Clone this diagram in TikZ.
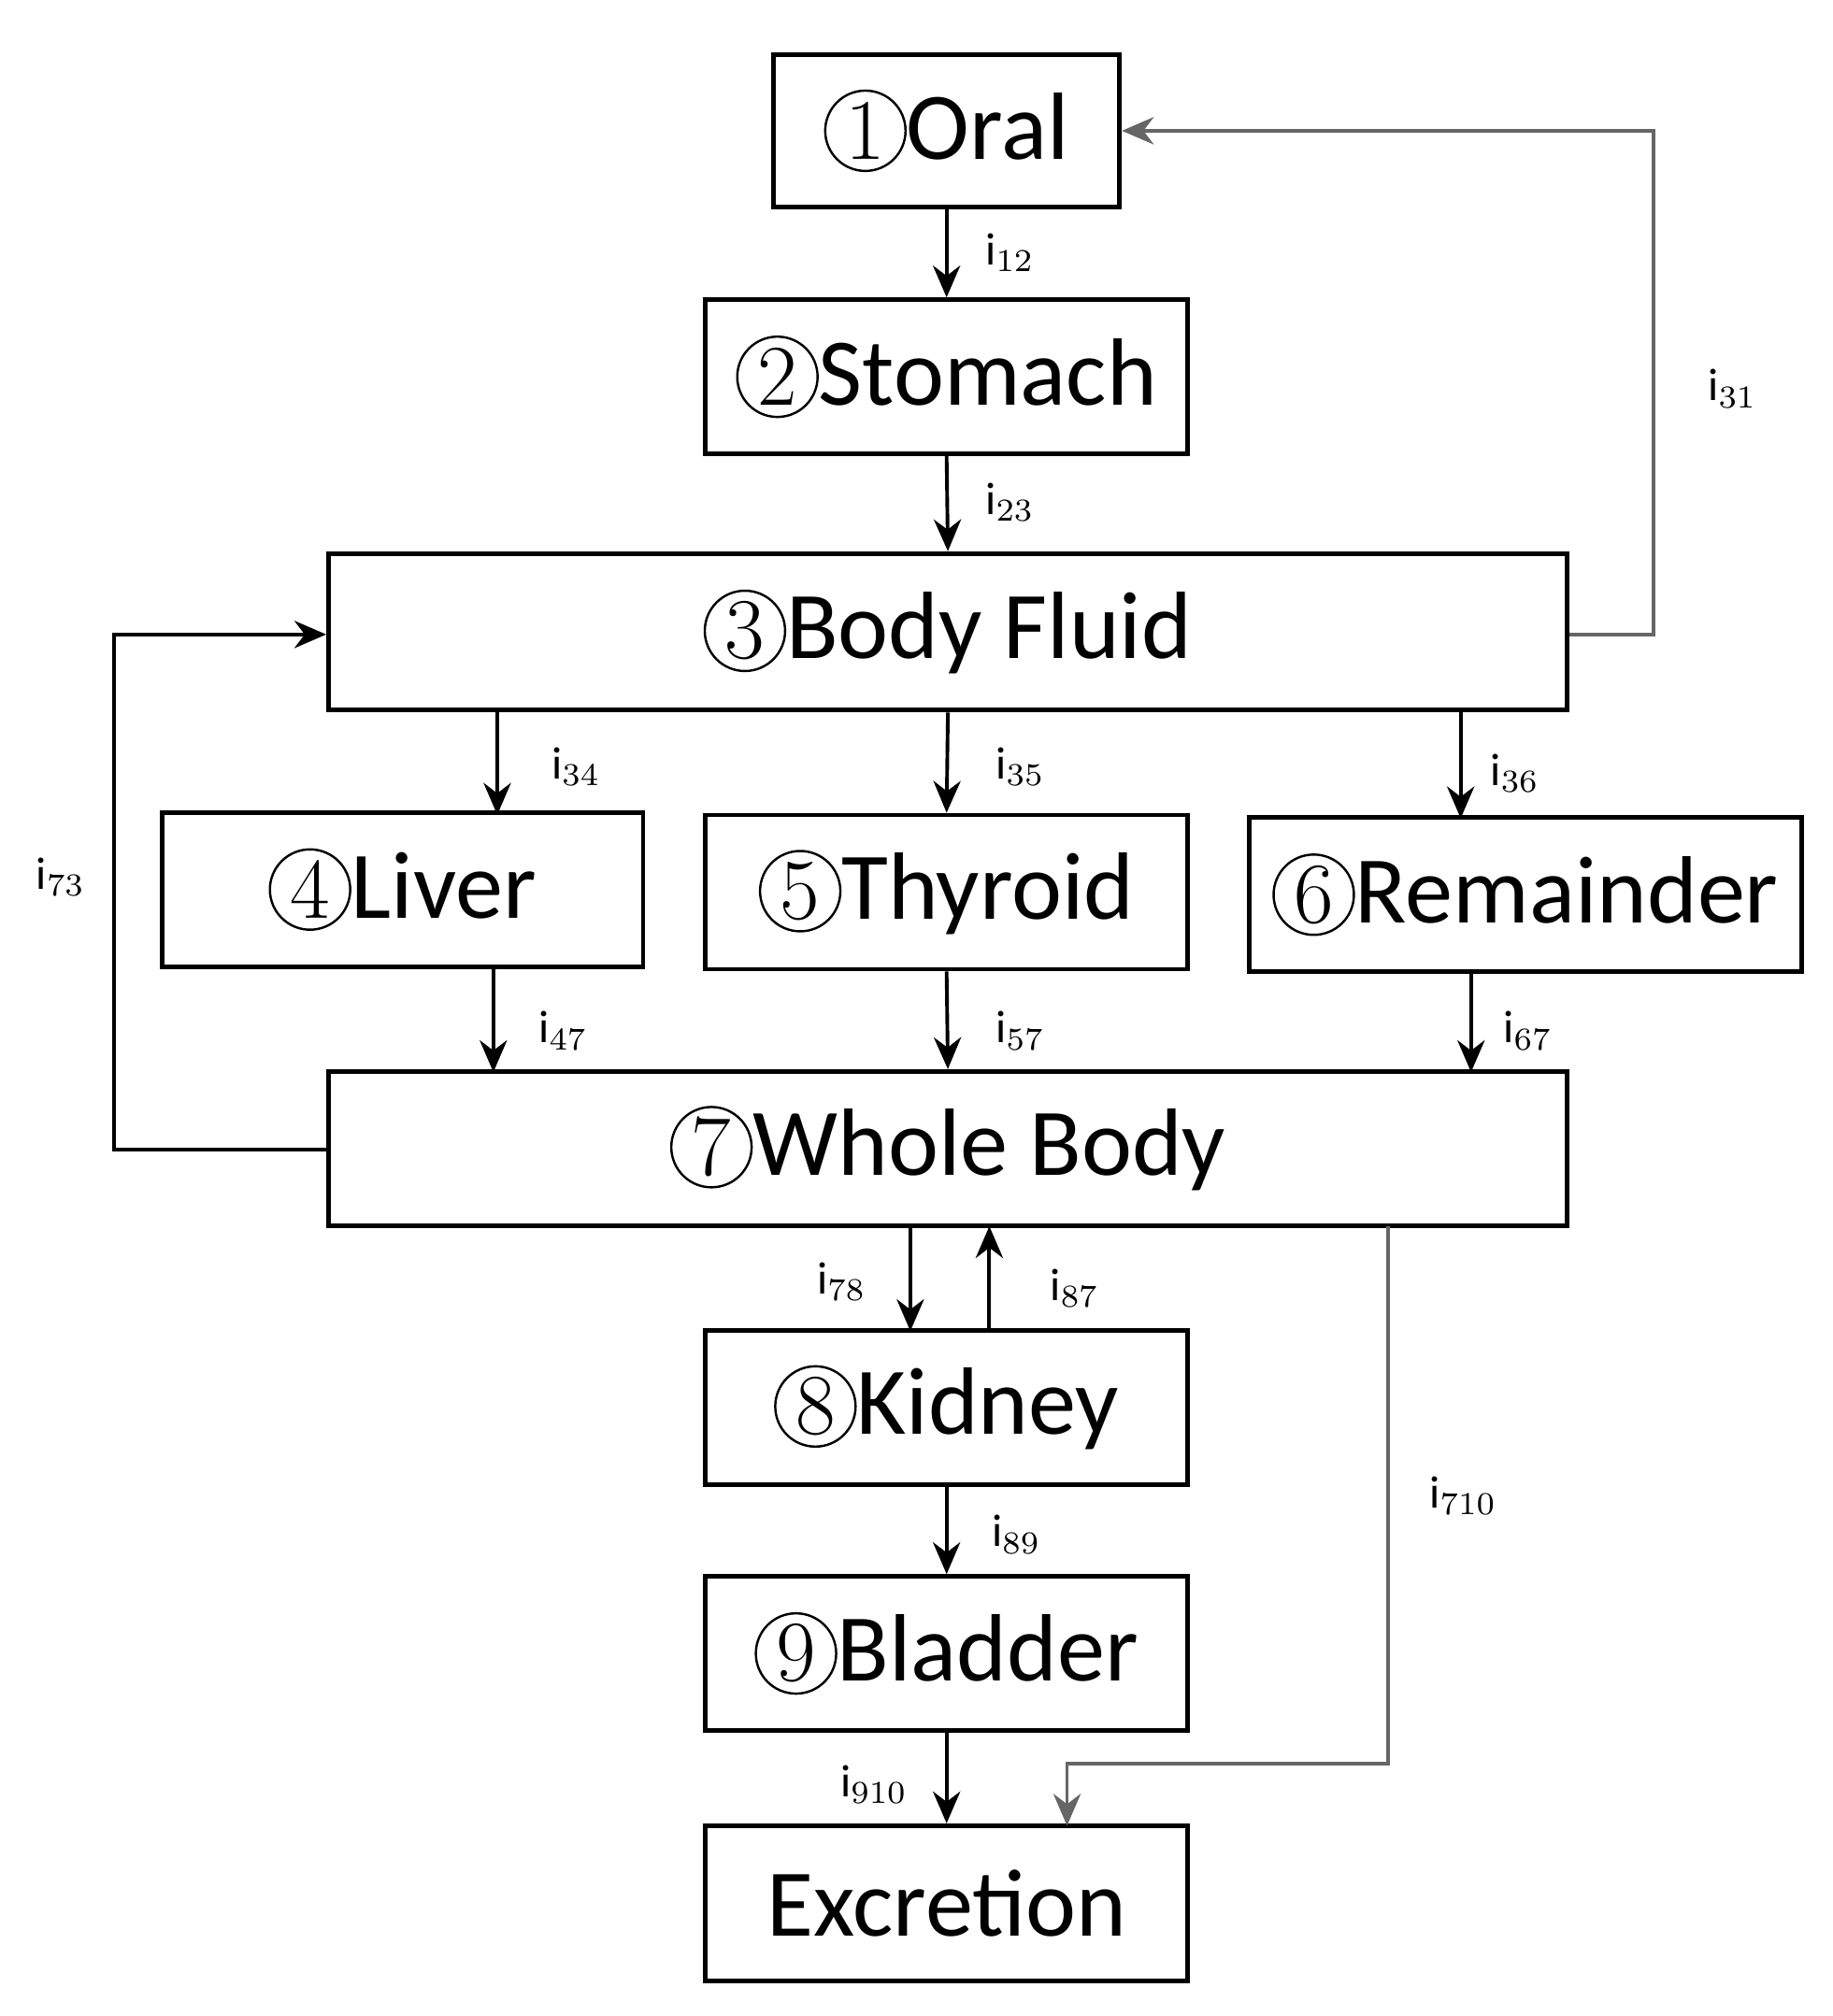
\documentclass[tikz,border=0pt]{standalone}
\usepackage{fontspec}
\setmainfont{Carlito}
\usetikzlibrary{arrows.meta}
\newcommand{\cnum}[1]{\tikz[baseline=(c.base)]\node[circle,draw,line width=0.5pt,inner sep=0.5pt,minimum size=0.62cm,font=\fontsize{19}{19}\rmfamily\fontspec{Latin Modern Roman}](c){#1};}
\begin{document}
\begin{tikzpicture}[x=0.01cm,y=-0.01cm,
  box/.style={draw,line width=1pt,inner sep=0pt,font=\fontsize{21}{21}\selectfont},
  arr/.style={line width=0.8pt,-{Stealth[length=7pt,width=6pt]}},
  garr/.style={arr,draw=black!60},
  lab/.style={font=\fontsize{10}{10}\selectfont}]
\useasboundingbox (0,0) rectangle (1415,1557);
\node[box,minimum width=2.67cm,minimum height=1.18cm] (b1) at (731,101) {\cnum{1}Oral};
\node[box,minimum width=3.72cm,minimum height=1.19cm] (b2) at (731,291) {\cnum{2}Stomach};
\node[box,minimum width=9.56cm,minimum height=1.21cm] (b3) at (732,488) {\cnum{3}Body Fluid};
\node[box,minimum width=3.71cm,minimum height=1.19cm] (b4) at (311,687) {\cnum{4}Liver};
\node[box,minimum width=3.72cm,minimum height=1.19cm] (b5) at (731,689) {\cnum{5}Thyroid};
\node[box,minimum width=4.26cm,minimum height=1.19cm] (b6) at (1178,691) {\cnum{6}Remainder};
\node[box,minimum width=9.56cm,minimum height=1.19cm] (b7) at (732,887) {\cnum{7}Whole Body};
\node[box,minimum width=3.72cm,minimum height=1.19cm] (b8) at (731,1087) {\cnum{8}Kidney};
\node[box,minimum width=3.72cm,minimum height=1.19cm] (b9) at (731,1277) {\cnum{9}Bladder};
\node[box,minimum width=3.72cm,minimum height=1.2cm] (b10) at (731,1470) {Excretion};
\coordinate (c73a) at (88,888); \coordinate (c73b) at (88,490);
\coordinate (c31a) at (1277,490); \coordinate (c31b) at (1277,101);
\coordinate (c710a) at (1072,1362); \coordinate (c710b) at (824,1362);
\draw[arr] (b1.south) -- (b2.north);
\draw[arr] (b2.south) -- (b3.north);
\draw[arr] (b3.south -| b4.north) ++(73,0) -- ++(0,79);
\draw[arr] (b3.south) -- (b5.north);
\draw[arr] (1128,549) -- (1128,632);
\draw[arr] (381,747) -- (381,828);
\draw[arr] (b5.south) -- (b7.north);
\draw[arr] (1136,751) -- (1136,828);
\draw[arr] (703,947) -- (703,1028);
\draw[arr] (764,1028) -- (764,947);
\draw[arr] (b8.south) -- (b9.north);
\draw[arr] (b9.south) -- (b10.north);
\draw[arr] (b7.west |- c73a) -- (c73a) -- (c73b) -- (b3.west |- c73b);
\draw[garr] (b3.east |- c31a) -- (c31a) -- (c31b) -- (b1.east);
\draw[garr] (1072,947) -- (c710a) -- (c710b) -- (824,1410);
\node[lab] at (780,195) {i$_{12}$};
\node[lab] at (780,388) {i$_{23}$};
\node[lab] at (1338,300) {i$_{31}$};
\node[lab] at (445,592) {i$_{34}$};
\node[lab] at (788,592) {i$_{35}$};
\node[lab] at (1170,597) {i$_{36}$};
\node[lab] at (47,677) {i$_{73}$};
\node[lab] at (435,796) {i$_{47}$};
\node[lab] at (788,796) {i$_{57}$};
\node[lab] at (1180,796) {i$_{67}$};
\node[lab] at (650,990) {i$_{78}$};
\node[lab] at (830,995) {i$_{87}$};
\node[lab] at (785,1185) {i$_{89}$};
\node[lab] at (1130,1155) {i$_{710}$};
\node[lab] at (675,1378) {i$_{910}$};
\end{tikzpicture}
\end{document}
